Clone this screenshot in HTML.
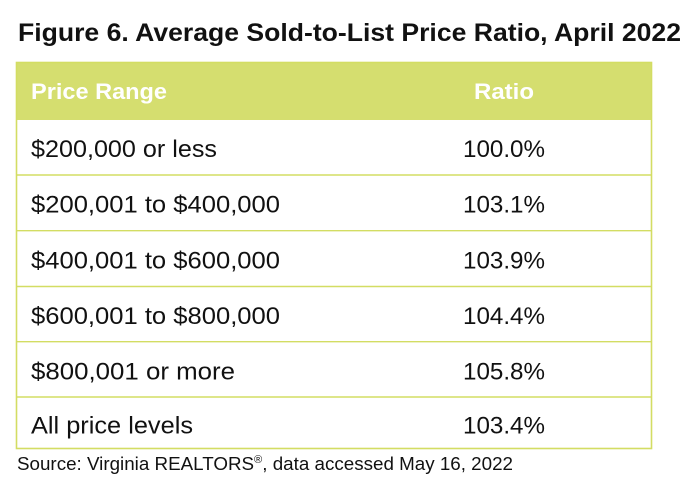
<!DOCTYPE html>
<html>
<head>
<meta charset="utf-8">
<style>
  html, body { margin: 0; padding: 0; background: #ffffff; }
  svg { display: block; }
  text { font-family: "Liberation Sans", sans-serif; fill: #111111; }
</style>
</head>
<body>
<svg width="700" height="497" viewBox="0 0 700 497" xmlns="http://www.w3.org/2000/svg">
  <rect x="0" y="0" width="700" height="497" fill="#ffffff"/>

  <!-- Title -->
  <text x="18" y="41" font-size="25" font-weight="bold" textLength="663" lengthAdjust="spacingAndGlyphs">Figure 6. Average Sold-to-List Price Ratio, April 2022</text>

  <!-- Header background -->
  <rect x="16" y="62" width="635.5" height="58" fill="#d5de6f"/>

  <!-- Header text -->
  <text x="31" y="99" font-size="22" font-weight="bold" fill="#ffffff" style="fill:#ffffff" textLength="136" lengthAdjust="spacingAndGlyphs">Price Range</text>
  <text x="474" y="99" font-size="22" font-weight="bold" fill="#ffffff" style="fill:#ffffff" textLength="60" lengthAdjust="spacingAndGlyphs">Ratio</text>

  <!-- Table borders -->
  <rect x="16.5" y="62.5" width="635" height="386" fill="none" stroke="#d3dd63" stroke-width="1.6"/>
  <g stroke="#d3dd63" stroke-width="1.4">
    <line x1="16" y1="175" x2="652" y2="175"/>
    <line x1="16" y1="230.7" x2="652" y2="230.7"/>
    <line x1="16" y1="286.5" x2="652" y2="286.5"/>
    <line x1="16" y1="341.7" x2="652" y2="341.7"/>
    <line x1="16" y1="397" x2="652" y2="397"/>
  </g>

  <!-- Rows -->
  <text x="31" y="157" font-size="24" textLength="186" lengthAdjust="spacingAndGlyphs">$200,000 or less</text>
  <text x="463" y="157" font-size="24" textLength="82" lengthAdjust="spacingAndGlyphs">100.0%</text>

  <text x="31" y="212.5" font-size="24" textLength="249" lengthAdjust="spacingAndGlyphs">$200,001 to $400,000</text>
  <text x="463" y="212.5" font-size="24" textLength="82" lengthAdjust="spacingAndGlyphs">103.1%</text>

  <text x="31" y="268.3" font-size="24" textLength="249" lengthAdjust="spacingAndGlyphs">$400,001 to $600,000</text>
  <text x="463" y="268.3" font-size="24" textLength="82" lengthAdjust="spacingAndGlyphs">103.9%</text>

  <text x="31" y="324" font-size="24" textLength="249" lengthAdjust="spacingAndGlyphs">$600,001 to $800,000</text>
  <text x="463" y="324" font-size="24" textLength="82" lengthAdjust="spacingAndGlyphs">104.4%</text>

  <text x="31" y="379.3" font-size="24" textLength="204" lengthAdjust="spacingAndGlyphs">$800,001 or more</text>
  <text x="463" y="379.3" font-size="24" textLength="82" lengthAdjust="spacingAndGlyphs">105.8%</text>

  <text x="31" y="433.3" font-size="24" textLength="162" lengthAdjust="spacingAndGlyphs">All price levels</text>
  <text x="463" y="433.3" font-size="24" textLength="82" lengthAdjust="spacingAndGlyphs">103.4%</text>

  <!-- Source -->
  <text x="17" y="470" font-size="18.5" textLength="496" lengthAdjust="spacingAndGlyphs">Source: Virginia REALTORS<tspan font-size="11" dy="-7">®</tspan><tspan dy="7">, data accessed May 16, 2022</tspan></text>
</svg>
</body>
</html>
